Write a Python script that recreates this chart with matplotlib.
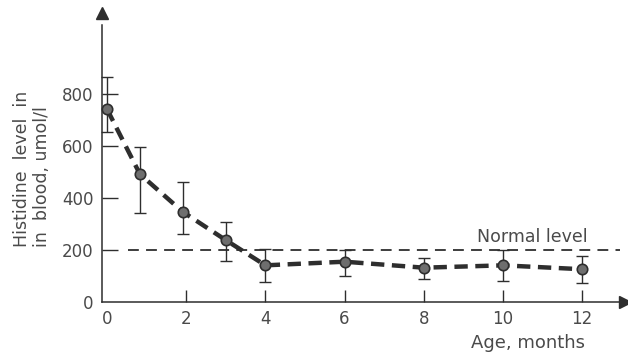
import matplotlib
matplotlib.use("Agg")
import matplotlib.pyplot as plt
import numpy as np

# data
age_months = [0, 0.83, 1.92, 3.0, 4, 6, 8, 10, 12]
histidine = [742, 492, 346, 238, 141, 155, 132, 141, 126]
err_high = [865, 596, 462, 308, 204, 200, 169, 200, 177]
err_low = [655, 342, 262, 158, 77, 100, 88, 81, 73]
normal_level = 200
x_ticks = [0, 2, 4, 6, 8, 10, 12]
y_ticks = [0, 200, 400, 600, 800]

W, H = 628, 356
fig = plt.figure(figsize=(W / 100, H / 100), dpi=100)
plt.rcParams['font.family'] = ['DejaVu Sans']
ink = '#2e2e2e'
txt = '#4a4a4a'

# axes in pixel geometry
left_px, right_px, base_px, top_px = 102, 620, 302, 25
ax = fig.add_axes([left_px / W, (H - base_px) / H, (right_px - left_px) / W, (base_px - top_px) / H])
x0_px, px_per_month = 107, 39.6
ax.set_xlim((left_px - x0_px) / px_per_month, (right_px - x0_px) / px_per_month)
ax.set_ylim(0, (base_px - top_px) / 0.26)
ax.patch.set_alpha(0)

for s in ['top', 'right']:
    ax.spines[s].set_visible(False)
for s in ['left', 'bottom']:
    ax.spines[s].set_color(ink)
    ax.spines[s].set_linewidth(1.1)

# arrow heads
ax.plot([0], [1.045], marker='^', color=ink, markersize=9, transform=ax.transAxes, clip_on=False)
ax.plot([1.01], [0], marker='>', color=ink, markersize=8, transform=ax.transAxes, clip_on=False)

ax.set_xticks(x_ticks)
ax.set_xticklabels([str(v) for v in x_ticks])
ax.set_yticks(y_ticks)
ax.set_yticklabels([str(v) for v in y_ticks])
ax.tick_params(axis='x', direction='in', length=8.6, width=1.0, color=ink, pad=6,
               labelsize=12, labelcolor=txt)
ax.tick_params(axis='y', direction='in', length=11.5, width=1.0, color=ink, pad=6,
               labelsize=12, labelcolor=txt)
ax.xaxis.get_major_ticks()[0].tick1line.set_visible(False)
ax.yaxis.get_major_ticks()[0].tick1line.set_visible(False)

# normal level line
ax.axhline(normal_level, xmin=0.05, xmax=1.0, color=ink, lw=1.3, ls=(0, (6, 4)), clip_on=False)
ax.text(10.75, normal_level + 14, 'Normal level', fontsize=12.5, color=txt, ha='center', va='bottom')

# error bars
y = np.array(histidine)
yerr = [y - np.array(err_low), np.array(err_high) - y]
ax.errorbar(age_months, histidine, yerr=yerr, fmt='none', ecolor=ink, elinewidth=1.0,
            capsize=4, capthick=1.0, clip_on=False, zorder=3)

# main dashed line with markers
ax.plot(age_months, histidine, color=ink, lw=3.2, ls=(0, (3, 1.7)), zorder=4, clip_on=False)
ax.plot(age_months, histidine, ls='none', marker='o', markersize=7.5, markerfacecolor='#6e6e6e',
        markeredgecolor=ink, markeredgewidth=1.2, zorder=5, clip_on=False)

# labels
fig.text(22 / W, 1 - 247 / H, 'Histidine  level  in', rotation=90, rotation_mode='anchor',
         ha='left', va='center', fontsize=12.5, color=txt)
fig.text(42 / W, 1 - 247 / H, 'in  blood, umol/l', rotation=90, rotation_mode='anchor',
         ha='left', va='center', fontsize=12.5, color=txt)
fig.text(528 / W, 1 - 343 / H, 'Age, months', ha='center', va='center', fontsize=13, color=txt)

fig.savefig('out.png', dpi=100)
